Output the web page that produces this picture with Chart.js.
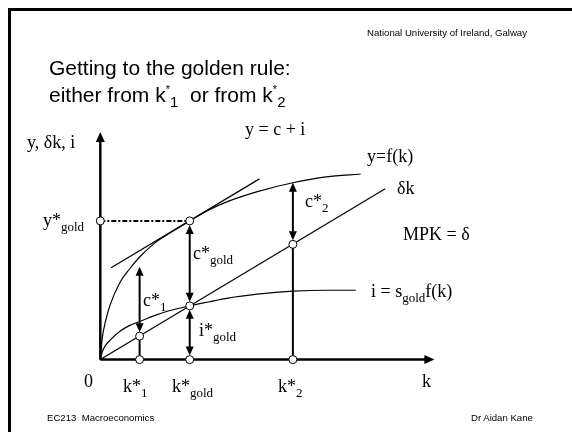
<!DOCTYPE html>
<html>
<head>
<meta charset="utf-8">
<script src="https://cdn.jsdelivr.net/npm/chart.js@4.4.0/dist/chart.umd.min.js"></script>
<style>
    html, body {margin: 0; padding: 0; background: #fff;}
    #slide {position: relative; width: 572px; height: 432px; overflow: hidden; font-family: "Liberation Sans", Arial, sans-serif; color: #000;}
    #frame {position: absolute; left: 8px; top: 8px; width: 700px; height: 600px; border-top: 3px solid #000; border-left: 3px solid #000;}
    canvas {position: absolute; left: 0; top: 0;}
    .t {position: absolute; white-space: pre; line-height: 1;}
    .small {font-size: 9.6px;}
    .title {font-size: 21px; left: 49px;}
    .st {font-size: 11px; position: relative; top: -9px;}
    .sb {font-size: 15px; position: relative; top: 5px;}
</style>
</head>
<body>
<div id="slide">
    <div id="frame"></div>
    <canvas id="chart" width="572" height="432"></canvas>
    <div class="t small" style="right:45px; top:28px;">National University of Ireland, Galway</div>
    <div class="t title" style="top:57px;">Getting to the golden rule:</div>
    <div class="t title" style="top:84px;">either from k<span class="st">*</span><span class="sb">1</span>  or from k<span class="st">*</span><span class="sb">2</span></div>
    <div class="t small" style="left:47px; top:413px;">EC213  Macroeconomics</div>
    <div class="t small" style="left:471px; top:413px;">Dr Aidan Kane</div>
</div>
<script>
// production function y = f(k)
const kGrid = [0, 0.2, 0.5, 1, 2, 3, 4, 5.5, 7, 9.1, 11, 13, 16, 19.6, 23, 26.5];
const fVals = [0, 2.2, 3.8, 5.6, 7.9, 9.3, 10.5, 11.9, 12.9, 14.2, 15.3, 16.2, 17.2, 18.1, 18.7, 19.0];
// investment i = s_gold f(k)
const iGrid = [0, 0.2, 0.5, 1, 2, 3, 4, 5.5, 7, 9.1, 11, 13, 16, 19.6, 23, 26];
const iVals = [0, 0.8, 1.4, 2.0, 2.9, 3.5, 3.9, 4.5, 5.0, 5.5, 5.9, 6.3, 6.7, 7.0, 7.1, 7.1];
// depreciation line δk and the tangent with slope δ
const depK = [0, 29.0];
const depVals = [0, 17.5];
const tanK = [1.1, 16.2];
const tanVals = [9.4, 18.5];
// steady states k*1, k*gold, k*2
const kStars = [4.0, 9.1, 19.6];
const depAtStars = [2.4, 5.5, 11.8];
const topAtStars = [9.5, 14.2, 18.1];
const kStarSubs = ['1', 'gold', '2'];
const axisEnds = [34, 23.3];

const xy = (xs, ys) => xs.map((x, i) => ({x: x, y: ys[i]}));
const GOLD = 1;

// open circles: y*gold, f at gold, δk at each k*, and k* on the axis
const dotK = [0, kStars[GOLD], ...kStars, ...kStars];
const dotY = [topAtStars[GOLD], topAtStars[GOLD], ...depAtStars, 0, 0, 0];

// double arrows: c*1, c*gold, i*gold, c*2
const arrowK = [kStars[0], kStars[GOLD], kStars[GOLD], kStars[2]];
const arrowLo = [depAtStars[0], depAtStars[GOLD], 0, depAtStars[2]];
const arrowHi = [topAtStars[0], topAtStars[GOLD], depAtStars[GOLD], topAtStars[2]];
const arrowGap = [[0, 4], [4, 4], [4, 4], [0, 4]];

const SERIF = '"Liberation Serif", "Times New Roman", serif';

function head(ctx, x, y, dx, dy, len, half) {
    ctx.beginPath();
    ctx.moveTo(x, y);
    ctx.lineTo(x - dx * len - dy * half, y - dy * len + dx * half);
    ctx.lineTo(x - dx * len + dy * half, y - dy * len - dx * half);
    ctx.closePath();
    ctx.fill();
}

function rich(ctx, x, y, parts) {
    parts.forEach(([txt, size, dy]) => {
        ctx.font = size + 'px ' + SERIF;
        ctx.fillText(txt, x, y + dy);
        x += ctx.measureText(txt).width;
    });
}

const star = (base, sub) => [[base, 18, 0], ['*', 18, 0], [sub, 13, 5]];

const labels = [
    {x: 27, y: 148, parts: [['y, δk, i', 18, 0]]},
    {x: 245, y: 135, parts: [['y = c + i', 18, 0]]},
    {x: 367, y: 162, parts: [['y=f(k)', 18, 0]]},
    {x: 397, y: 194, parts: [['δk', 18, 0]]},
    {x: 403, y: 240, parts: [['MPK = δ', 18, 0]]},
    {x: 371, y: 297, parts: [['i = s', 18, 0], ['gold', 13, 5], ['f(k)', 18, 0]]},
    {x: 43, y: 226, parts: star('y', 'gold')},
    {x: 305, y: 207, parts: star('c', '2')},
    {x: 193, y: 259, parts: star('c', 'gold')},
    {x: 143, y: 306, parts: star('c', '1')},
    {x: 199, y: 336, parts: star('i', 'gold')},
    {x: 84, y: 387, parts: [['0', 18, 0]]},
    {x: 123, y: 392, parts: star('k', kStarSubs[0])},
    {x: 172, y: 392, parts: star('k', kStarSubs[1])},
    {x: 278, y: 392, parts: star('k', kStarSubs[2])},
    {x: 422, y: 387, parts: [['k', 18, 0]]}
];

const diagram = {
    id: 'diagram',
    afterDatasetsDraw(chart) {
        const {ctx, scales: {x, y}} = chart;
        ctx.save();
        ctx.fillStyle = '#000';
        ctx.strokeStyle = '#000';
        // axis arrow heads
        head(ctx, x.getPixelForValue(axisEnds[0]), y.getPixelForValue(0), 1, 0, 10, 4.5);
        head(ctx, x.getPixelForValue(0), y.getPixelForValue(axisEnds[1]), 0, -1, 10, 4.5);
        // double headed arrows
        ctx.lineWidth = 2;
        arrowK.forEach((k, i) => {
            const px = x.getPixelForValue(k);
            const top = y.getPixelForValue(arrowHi[i]) + arrowGap[i][0];
            const bot = y.getPixelForValue(arrowLo[i]) - arrowGap[i][1];
            ctx.beginPath();
            ctx.moveTo(px, top + 8);
            ctx.lineTo(px, bot - 8);
            ctx.stroke();
            head(ctx, px, top, 0, -1, 9, 4);
            head(ctx, px, bot, 0, 1, 9, 4);
        });
        // text
        ctx.textBaseline = 'alphabetic';
        labels.forEach(l => rich(ctx, l.x, l.y, l.parts));
        ctx.restore();
    }
};

const line = (data, extra) => Object.assign({
    data: data, showLine: true, borderColor: '#000', borderWidth: 1.2,
    pointRadius: 0, fill: false, order: 2
}, extra || {});

new Chart(document.getElementById('chart').getContext('2d'), {
    type: 'scatter',
    data: {
        datasets: [
            {data: xy(dotK, dotY), showLine: false, pointRadius: 4, pointBorderWidth: 1,
                pointBackgroundColor: '#fff', pointBorderColor: '#000', order: 0},
            line(xy(kGrid, fVals), {cubicInterpolationMode: 'monotone'}),
            line(xy(iGrid, iVals), {cubicInterpolationMode: 'monotone'}),
            line(xy(depK, depVals)),
            line(xy(tanK, tanVals)),
            line(xy([0, kStars[GOLD]], [topAtStars[GOLD], topAtStars[GOLD]]), {borderWidth: 2, borderDash: [5, 2, 2, 2]}),
            line(xy([0, axisEnds[0] - 0.8], [0, 0]), {borderWidth: 2.5}),
            line(xy([0, 0], [0, axisEnds[1] - 0.8]), {borderWidth: 2.5}),
            line(xy([kStars[0], kStars[0]], [0, depAtStars[0]]), {borderWidth: 2}),
            line(xy([kStars[2], kStars[2]], [0, depAtStars[2]]), {borderWidth: 2})
        ]
    },
    options: {
        responsive: false,
        animation: false,
        layout: {padding: 0},
        plugins: {legend: {display: false}, tooltip: {enabled: false}},
        scales: {
            x: {type: 'linear', display: false, min: -9.7, max: 47.5},
            y: {type: 'linear', display: false, min: -6.9, max: 36.3}
        }
    },
    plugins: [diagram]
});
</script>
</body>
</html>
